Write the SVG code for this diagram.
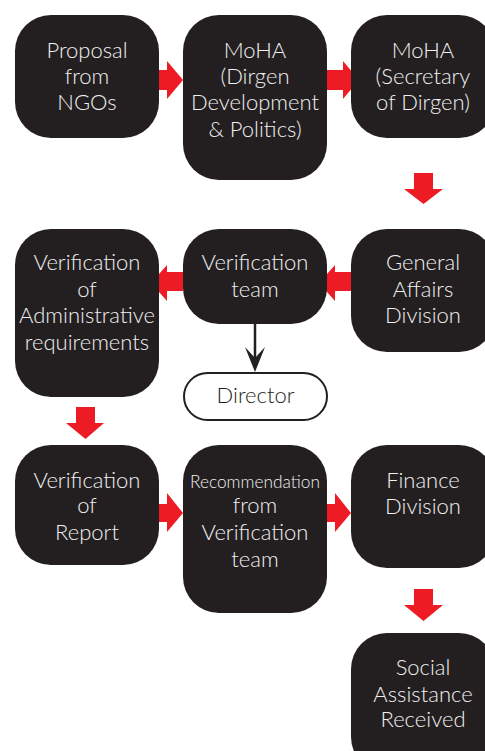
<svg xmlns="http://www.w3.org/2000/svg" width="485" height="751" viewBox="0 0 485 751">
<defs>
<style>
.box{fill:#231f20;}
.t{font-family:Lato,"Liberation Sans",sans-serif;font-weight:300;font-size:22px;fill:#f0f0f0;text-anchor:middle;}
.ts{font-size:17.3px;}
.ra{fill:#ed1c24;}
.d{font-family:Lato,"Liberation Sans",sans-serif;font-weight:300;font-size:22px;fill:#231f20;text-anchor:middle;}
</style>
</defs>
<rect width="485" height="751" fill="#ffffff"/>

<g id="connectors">
<path class="ra" d="M151,70 H167 V61 L183,80 L167,99 V90 H151 Z"/>
<path class="ra" d="M327,70 H343 V61 L359,80 L343,99 V90 H327 Z"/>
<path class="ra" d="M414,173 H433 V189 H443 L423.5,204 L404,189 H414 Z"/>
<path class="ra" d="M351,272 H335 V265 L319,283 L335,301 V291 H351 Z"/>
<path class="ra" d="M183,272 H167 V265 L151,283 L167,301 V291 H183 Z"/>
<path class="ra" d="M76,407 H95 V423 H104 L85.5,439 L66,423 H76 Z"/>
<path class="ra" d="M151,504 H167 V493 L183,513 L167,532 V522 H151 Z"/>
<path class="ra" d="M319,504 H335 V493 L351,513 L335,532 V522 H319 Z"/>
<path class="ra" d="M414,589 H433 V605 H443 L423.5,621 L404,605 H414 Z"/>
<path d="M255,324 V360" stroke="#231f20" stroke-width="2.5" fill="none"/>
<path d="M245,347 L255,358 L265,347 L255,372 Z" fill="#231f20"/>
</g>

<g id="n1"><rect class="box" x="15" y="15" width="144" height="123" rx="36"/>
<text class="t" x="87" y="58">Proposal</text><text class="t" x="87" y="84">from</text><text class="t" x="87" y="110">NGOs</text></g>

<g id="n2"><rect class="box" x="183" y="15" width="144" height="165" rx="36"/>
<text class="t" x="255" y="58">MoHA</text><text class="t" x="255" y="84">(Dirgen</text><text class="t" x="255" y="110">Development</text><text class="t" x="255" y="137">&amp; Politics)</text></g>

<g id="n3"><rect class="box" x="351" y="15" width="144" height="123" rx="36"/>
<text class="t" x="423" y="58">MoHA</text><text class="t" x="423" y="84">(Secretary</text><text class="t" x="423" y="110">of Dirgen)</text></g>

<g id="n4"><rect class="box" x="351" y="229" width="144" height="123" rx="36"/>
<text class="t" x="423" y="270">General</text><text class="t" x="423" y="297">Affairs</text><text class="t" x="423" y="323">Division</text></g>

<g id="n5"><rect class="box" x="183" y="229" width="144" height="95" rx="36"/>
<text class="t" x="255" y="270">Verification</text><text class="t" x="255" y="297">team</text></g>

<g id="n6"><rect class="box" x="15" y="229" width="144" height="168" rx="36"/>
<text class="t" x="87" y="270">Verification</text><text class="t" x="87" y="297">of</text><text class="t" x="87" y="323">Administrative</text><text class="t" x="87" y="350">requirements</text></g>

<g id="n7"><rect x="184" y="373" width="143" height="47" rx="23.5" fill="#ffffff" stroke="#231f20" stroke-width="2"/>
<text class="d" x="255.5" y="403">Director</text></g>

<g id="n8"><rect class="box" x="15" y="445" width="144" height="120" rx="36"/>
<text class="t" x="87" y="488">Verification</text><text class="t" x="87" y="513">of</text><text class="t" x="87" y="540">Report</text></g>

<g id="n9"><rect class="box" x="183" y="445" width="144" height="168" rx="36"/>
<text class="t ts" x="255" y="488">Recommendation</text><text class="t" x="255" y="513">from</text><text class="t" x="255" y="540">Verification</text><text class="t" x="255" y="567">team</text></g>

<g id="n10"><rect class="box" x="351" y="445" width="144" height="123" rx="36"/>
<text class="t" x="423" y="488">Finance</text><text class="t" x="423" y="514">Division</text></g>

<g id="n11"><rect class="box" x="351" y="633" width="144" height="140" rx="36"/>
<text class="t" x="423" y="675">Social</text><text class="t" x="423" y="702">Assistance</text><text class="t" x="423" y="727">Received</text></g>
</svg>
